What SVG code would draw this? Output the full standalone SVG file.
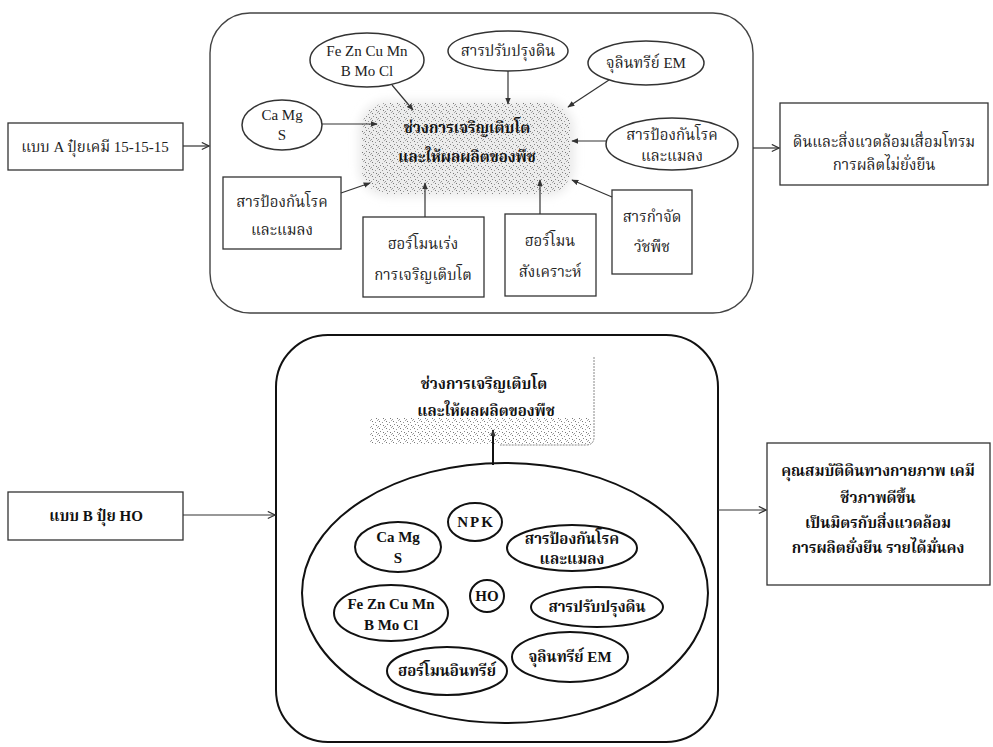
<svg xmlns="http://www.w3.org/2000/svg" width="993" height="747" viewBox="0 0 993 747">
<defs>
<style>
text{font-family:"Liberation Serif","Noto Serif Thai","Noto Sans Thai",serif;fill:#222;text-anchor:middle}
.t{font-size:15px}
.b{font-size:15px;font-weight:bold;fill:#111}
.box{fill:#fff;stroke:#333;stroke-width:1.3}
.ell{fill:#fff;stroke:#333;stroke-width:1.5}
.ellb{fill:#fff;stroke:#111;stroke-width:2}
.frame{fill:none;stroke:#444;stroke-width:1.4}
.frameb{fill:none;stroke:#111;stroke-width:2}
.c{fill:none;stroke:#333;stroke-width:1.2}
</style>
<marker id="tri" viewBox="0 0 10 10" refX="9" refY="5" markerWidth="7" markerHeight="7" orient="auto" markerUnits="userSpaceOnUse"><path d="M0,1 L10,5 L0,9 z" fill="#333"/></marker>
<marker id="open" viewBox="0 0 10 10" refX="9" refY="5" markerWidth="9" markerHeight="9" orient="auto" markerUnits="userSpaceOnUse"><path d="M1,1 L9,5 L1,9" fill="none" stroke="#333" stroke-width="1.3"/></marker>
<pattern id="dots" width="7" height="7" patternUnits="userSpaceOnUse"><rect x="1" y="1" width="1" height="1" fill="#777"/><rect x="4" y="2" width="1" height="1" fill="#999"/><rect x="2" y="4" width="1" height="1" fill="#888"/><rect x="5" y="5" width="1" height="1" fill="#777"/><rect x="6" y="0" width="1" height="1" fill="#aaa"/><rect x="0" y="6" width="1" height="1" fill="#999"/></pattern>
<filter id="soft" x="-10%" y="-10%" width="120%" height="120%"><feGaussianBlur stdDeviation="4"/></filter>
</defs>

<!-- Top section frame -->
<rect class="frame" x="210" y="13" width="543" height="300" rx="40"/>

<g id="cloudA">
<rect x="358" y="100" width="217" height="97" rx="30" fill="#ececec" filter="url(#soft)"/>
<rect x="362" y="103" width="209" height="91" rx="25" fill="url(#dots)"/>
<text class="b" x="467" y="133">ช่วงการเจริญเติบโต</text>
<text class="b" x="467" y="162">และให้ผลผลิตของพืช</text>
</g>

<g id="boxA"><rect class="box" x="8" y="123" width="175" height="47"/><text class="t" x="95" y="152">แบบ A ปุ๋ยเคมี 15-15-15</text></g>
<g id="feA"><ellipse class="ell" cx="367" cy="60" rx="57" ry="27"/><text class="t" x="367" y="56">Fe Zn Cu Mn</text><text class="t" x="367" y="76">B Mo Cl</text></g>
<g id="soilA"><ellipse class="ell" cx="508" cy="51" rx="60" ry="20"/><text class="t" x="508" y="56">สารปรับปรุงดิน</text></g>
<g id="emA"><ellipse class="ell" cx="646" cy="63" rx="58" ry="22"/><text class="t" x="646" y="68">จุลินทรีย์ EM</text></g>
<g id="camgA"><ellipse class="ell" cx="282" cy="125" rx="40" ry="25"/><text class="t" x="282" y="120">Ca Mg</text><text class="t" x="282" y="140">S</text></g>
<g id="protEllA"><ellipse class="ell" cx="672" cy="144" rx="66" ry="26"/><text class="t" x="672" y="140">สารป้องกันโรค</text><text class="t" x="672" y="161">และแมลง</text></g>
<g id="protBoxA"><rect class="box" x="223" y="177" width="118" height="72"/><text class="t" x="282" y="207">สารป้องกันโรค</text><text class="t" x="282" y="235">และแมลง</text></g>
<g id="hormA"><rect class="box" x="363" y="217" width="121" height="80"/><text class="t" x="423" y="249">ฮอร์โมนเร่ง</text><text class="t" x="423" y="280">การเจริญเติบโต</text></g>
<g id="synA"><rect class="box" x="505" y="214" width="91" height="82"/><text class="t" x="550" y="246">ฮอร์โมน</text><text class="t" x="550" y="277">สังเคราะห์</text></g>
<g id="herbA"><rect class="box" x="612" y="190" width="80" height="84"/><text class="t" x="652" y="222">สารกำจัด</text><text class="t" x="652" y="252">วัชพืช</text></g>
<g id="resA"><rect class="box" x="780" y="103" width="208" height="82"/><text class="t" x="884" y="147">ดินและสิ่งแวดล้อมเสื่อมโทรม</text><text class="t" x="884" y="170">การผลิตไม่ยั่งยืน</text></g>

<!-- Bottom section -->
<rect class="frameb" x="276" y="335" width="442" height="407" rx="52"/>
<g id="cloudB">
<rect x="370" y="418" width="222" height="26" fill="url(#dots)"/>
<path d="M594,357 V437 Q594,445 586,445 H500" fill="none" stroke="#888" stroke-width="1" stroke-dasharray="2 1"/>
<text class="b" x="484" y="389">ช่วงการเจริญเติบโต</text>
<text class="b" x="486" y="416">และให้ผลผลิตของพืช</text>
</g>
<g id="bigEll"><ellipse class="ellb" cx="505" cy="593" rx="203" ry="130"/></g>
<g id="npk"><ellipse class="ellb" cx="475" cy="522" rx="27" ry="19"/><text class="b" x="476" y="527" letter-spacing="2">NPK</text></g>
<g id="camgB"><ellipse class="ellb" cx="398" cy="547" rx="43" ry="25"/><text class="b" x="398" y="542">Ca Mg</text><text class="b" x="398" y="563">S</text></g>
<g id="protB"><ellipse class="ellb" cx="572" cy="548" rx="65" ry="23"/><text class="b" x="572" y="544">สารป้องกันโรค</text><text class="b" x="572" y="564">และแมลง</text></g>
<g id="ho"><ellipse class="ellb" cx="487" cy="596" rx="17" ry="16"/><text class="b" x="487" y="601">HO</text></g>
<g id="feB"><ellipse class="ellb" cx="391" cy="613" rx="57" ry="28"/><text class="b" x="391" y="609">Fe Zn Cu Mn</text><text class="b" x="391" y="630">B Mo Cl</text></g>
<g id="soilB"><ellipse class="ellb" cx="597" cy="607" rx="66" ry="20"/><text class="b" x="597" y="612">สารปรับปรุงดิน</text></g>
<g id="hormB"><ellipse class="ellb" cx="447" cy="671" rx="60" ry="24"/><text class="b" x="447" y="676">ฮอร์โมนอินทรีย์</text></g>
<g id="emB"><ellipse class="ellb" cx="570" cy="657" rx="58" ry="25"/><text class="b" x="570" y="662">จุลินทรีย์ EM</text></g>
<g id="boxB"><rect class="box" x="8" y="492" width="175" height="48"/><text class="b" x="96" y="521">แบบ B ปุ๋ย HO</text></g>
<g id="resB"><rect class="box" x="767" y="443" width="223" height="142"/>
<text class="b" x="878" y="476">คุณสมบัติดินทางกายภาพ เคมี</text>
<text class="b" x="878" y="503">ชีวภาพดีขึ้น</text>
<text class="b" x="878" y="528">เป็นมิตรกับสิ่งแวดล้อม</text>
<text class="b" x="878" y="553">การผลิตยั่งยืน รายได้มั่นคง</text></g>

<g id="connectors">
<line class="c" x1="183" y1="146" x2="209" y2="146" marker-end="url(#open)"/>
<line class="c" x1="753" y1="148" x2="779" y2="148" marker-end="url(#open)"/>
<line class="c" x1="392" y1="85" x2="413" y2="110" marker-end="url(#tri)"/>
<line class="c" x1="508" y1="71" x2="508" y2="104" marker-end="url(#tri)"/>
<line class="c" x1="609" y1="80" x2="568" y2="107" marker-end="url(#tri)"/>
<line class="c" x1="322" y1="124" x2="377" y2="124" marker-end="url(#tri)"/>
<line class="c" x1="606" y1="141" x2="572" y2="141" marker-end="url(#tri)"/>
<line class="c" x1="341" y1="193" x2="370" y2="183" marker-end="url(#tri)"/>
<line class="c" x1="425" y1="217" x2="425" y2="183" marker-end="url(#tri)"/>
<line class="c" x1="540" y1="214" x2="540" y2="180" marker-end="url(#tri)"/>
<line class="c" x1="612" y1="197" x2="572" y2="180" marker-end="url(#tri)"/>
<line class="c" x1="183" y1="515" x2="275" y2="515" marker-end="url(#open)"/>
<line class="c" x1="718" y1="510" x2="766" y2="510" marker-end="url(#open)"/>
<line x1="493" y1="465" x2="493" y2="430" stroke="#111" stroke-width="2" marker-end="url(#tri)"/>
</g>
</svg>
